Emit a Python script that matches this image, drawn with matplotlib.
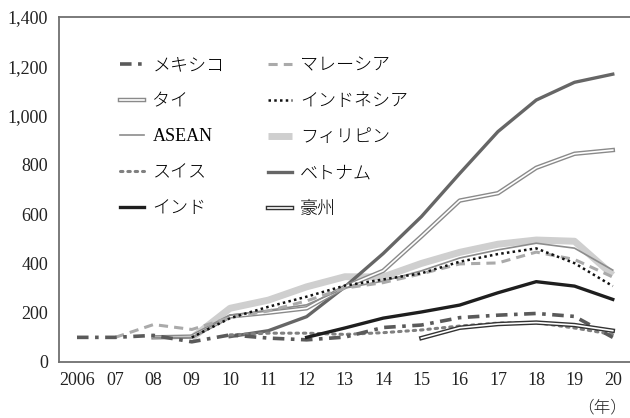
import numpy as np
import matplotlib
matplotlib.use("Agg")
import matplotlib.pyplot as plt
import matplotlib.patheffects as pe
from matplotlib.ticker import FuncFormatter
from matplotlib.font_manager import FontProperties

plt.rcParams['font.family'] = ['Liberation Serif', 'Noto Sans CJK JP']

nan = np.nan
years = np.arange(2006, 2021)
year_labels = ['2006', '07', '08', '09', '10', '11', '12', '13', '14',
               '15', '16', '17', '18', '19', '20']

mexico = [100, 100, 108, 82, 110, 97, 90, 101, 140, 150, 180, 190, 197, 185, 100]
malaysia = [nan, 100, 152, 132, 180, 207, 248, 300, 322, 358, 398, 402, 446, 416, 345]
tai = [nan, nan, 100, 103, 185, 200, 218, 305, 370, 510, 655, 685, 788, 845, 860]
indonesia = [nan, nan, nan, 100, 178, 224, 265, 310, 335, 360, 407, 438, 461, 401, 308]
asean = [nan, nan, 100, 100, 190, 210, 232, 300, 328, 370, 422, 455, 482, 462, 373]
philippines = [nan, nan, nan, 97, 218, 251, 305, 346, 345, 400, 445, 478, 495, 490, 353]
swiss = [nan, nan, nan, nan, 110, 117, 117, 112, 119, 130, 146, 158, 160, 138, 112]
vietnam = [nan, nan, nan, nan, 103, 127, 184, 305, 440, 590, 765, 935, 1063, 1135, 1168]
india = [nan, nan, nan, nan, nan, nan, 100, 138, 178, 203, 231, 281, 326, 308, 254]
australia = [nan, nan, nan, nan, nan, nan, nan, nan, nan, 97, 139, 154, 160, 150, 127]

fig = plt.figure(figsize=(6.3, 4.18), dpi=100)
ax = fig.add_axes([59/630, 1 - 362/418, 1 - 59/630, (362 - 17)/418])

def double(color, w=3.4):
    return [pe.Stroke(linewidth=w, foreground=color), pe.Normal()]

h = {}
h['フィリピン'], = ax.plot(years, philippines, color='#cfcfcf', lw=5, zorder=1,
                      solid_capstyle='butt')
h['ベトナム'], = ax.plot(years, vietnam, color='#666666', lw=2.4, zorder=2)
h['タイ'], = ax.plot(years, tai, color='white', lw=1.2, zorder=3,
                   path_effects=double('#8a8a8a', 3.2))
h['ASEAN'], = ax.plot(years, asean, color='#8c8c8c', lw=1.2, zorder=3)
h['マレーシア'], = ax.plot(years, malaysia, color='#aaaaaa', lw=2.2,
                      linestyle=(0, (3, 2)), zorder=4)
h['インドネシア'], = ax.plot(years, indonesia, color='#111111', lw=1.8,
                       linestyle=(0, (1, 1.3)), zorder=5)
h['スイス'], = ax.plot(years, swiss, color='#808080', lw=2.2,
                    linestyle=(0, (0.8, 1.6)), dash_capstyle='round', zorder=4)
h['メキシコ'], = ax.plot(years, mexico, color='#5a5a5a', lw=2.6,
                     linestyle=(0, (3.2, 1.8, 1, 1.8)), zorder=4)
h['インド'], = ax.plot(years, india, color='#1e1e1e', lw=2.4, zorder=5)
h['豪州'], = ax.plot(years, australia, color='white', lw=1.2, zorder=5,
                   path_effects=double('#333333', 3.2))

order = ['メキシコ', 'タイ', 'ASEAN', 'スイス', 'インド',
         'マレーシア', 'インドネシア', 'フィリピン', 'ベトナム', '豪州']
leg = ax.legend([h[k] for k in order], order, ncol=2, frameon=False,
                loc='upper left', bbox_to_anchor=(120/630, 1 - 56/418),
                bbox_transform=fig.transFigure, borderpad=0, borderaxespad=0,
                handlelength=1.35, handletextpad=0.45, columnspacing=2.4,
                labelspacing=1.0, prop={'size': 13})
for t in leg.get_texts():
    if t.get_text() != 'ASEAN':
        t.set_fontproperties(FontProperties(family='Noto Sans CJK JP',
                                            weight='light', size=13))

ax.set_xlim(2005.53, 2020.45)
ax.set_ylim(0, 1400)
ax.set_yticks(np.arange(0, 1401, 200))
ax.yaxis.set_major_formatter(FuncFormatter(lambda v, p: f'{int(v):,}'))
ax.set_xticks(years)
ax.set_xticklabels(year_labels)
ax.tick_params(length=0, labelsize=13, colors='#222222')
ax.tick_params(axis='y', pad=8)
ax.tick_params(axis='x', pad=7)

for s in ['left', 'bottom', 'top']:
    ax.spines[s].set_color('#707070')
    ax.spines[s].set_linewidth(1.3)
ax.spines['right'].set_visible(False)

fig.text(602/630, 1 - 408/418, '（年）', ha='center', va='center',
         fontsize=12, color='#222222', family='Noto Sans CJK JP',
         weight='light')

fig.savefig('out.png', dpi=100)
